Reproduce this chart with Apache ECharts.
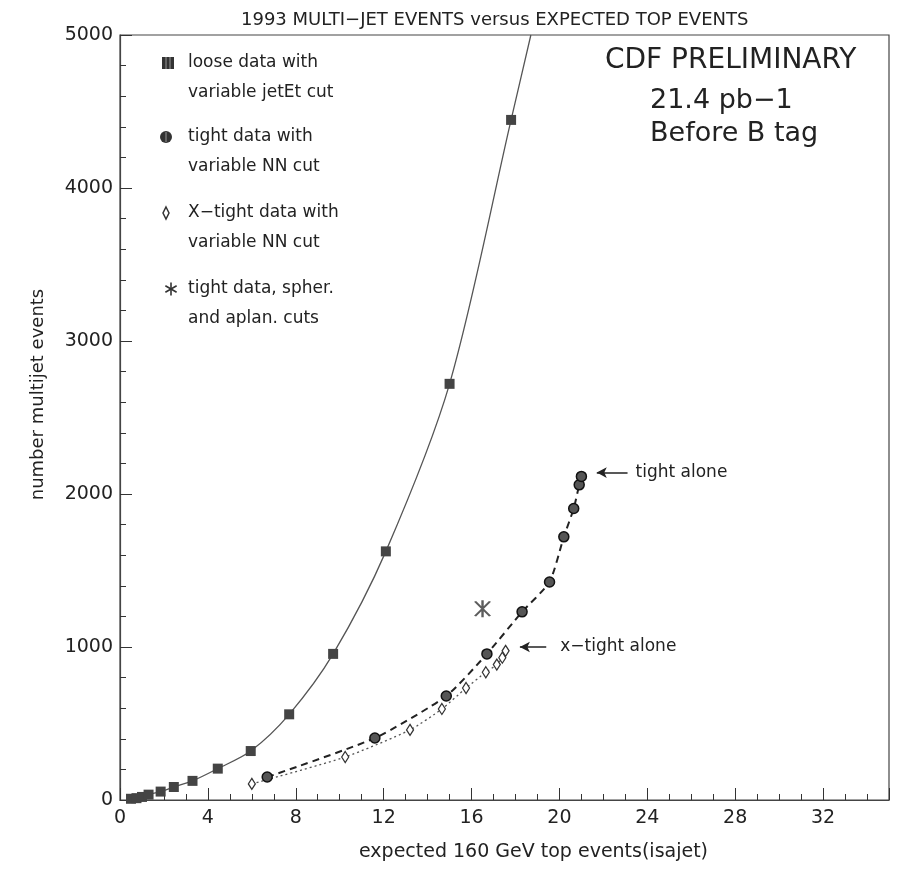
<!DOCTYPE html>
<html>
<head>
<meta charset="utf-8">
<script src="https://cdn.jsdelivr.net/npm/echarts@6/dist/echarts.min.js"></script>
<style>
  html, body { margin: 0; padding: 0; background: #fff; }
  #chart { width: 897px; height: 877px; }
</style>
</head>
<body>
<div id="chart"></div>
<script>
// loose data with variable jetEt cut (last point: where the curve leaves the frame)
const looseX = [0.5, 0.75, 1.0, 1.3, 1.85, 2.45, 3.3, 4.45, 5.95, 7.7, 9.7, 12.1, 15.0, 17.8, 18.7]
const looseY = [8, 12, 20, 35, 55, 85, 125, 205, 320, 560, 955, 1625, 2720, 4445, 5000]
// tight data with variable NN cut
const tightX = [6.7, 11.6, 14.85, 16.7, 18.3, 19.55, 20.2, 20.65, 20.9, 21.0]
const tightY = [150, 405, 680, 955, 1230, 1425, 1720, 1905, 2060, 2115]
// X-tight data with variable NN cut
const xtightX = [6.0, 10.25, 13.2, 14.65, 15.75, 16.65, 17.15, 17.4, 17.55]
const xtightY = [105, 281, 458, 595, 732, 835, 885, 930, 975]
// tight data, spher. and aplan. cuts
const spherX = [16.5]
const spherY = [1250]

const xTicks = [0, 4, 8, 12, 16, 20, 24, 28, 32]
const yTicks = [0, 1000, 2000, 3000, 4000, 5000]

const font = 'DejaVu Sans'
const ink = '#222'
const asteriskPath = 'path://M9.2,0H10.8V20H9.2Z M5.69,0.94L15.69,18.26L14.31,19.06L4.31,1.74Z M4.31,18.26L14.31,0.94L15.69,1.74L5.69,19.06Z'

const zip = (xs, ys) => xs.map((x, i) => [x, ys[i]])

const chart = echarts.init(document.getElementById('chart'))

const looseData = zip(looseX, looseY).map((p, i) =>
  i === looseX.length - 1 ? { value: p, symbol: 'none' } : p
)

const legendRows = [
  { y: 63, lines: ['loose data with', 'variable jetEt cut'], icon: 'rect' },
  { y: 137, lines: ['tight data with', 'variable NN cut'], icon: 'circle' },
  { y: 213, lines: ['X\u2212tight data with', 'variable NN cut'], icon: 'diamond' },
  { y: 289, lines: ['tight data, spher.', 'and aplan. cuts'], icon: 'star' }
]

const legendGraphics = []
legendRows.forEach(r => {
  r.lines.forEach((t, k) => {
    legendGraphics.push({
      type: 'text', x: 188, y: r.y + k * 30,
      style: { text: t, font: '17px ' + font, fill: ink, verticalAlign: 'middle' }
    })
  })
  if (r.icon === 'rect') {
    legendGraphics.push({ type: 'rect', shape: { x: 162, y: r.y - 6, width: 12, height: 12 }, style: { fill: '#333' } })
    legendGraphics.push({ type: 'line', shape: { x1: 166, y1: r.y - 6, x2: 166, y2: r.y + 6 }, style: { stroke: '#999', lineWidth: 1 } })
    legendGraphics.push({ type: 'line', shape: { x1: 170, y1: r.y - 6, x2: 170, y2: r.y + 6 }, style: { stroke: '#999', lineWidth: 1 } })
  } else if (r.icon === 'circle') {
    legendGraphics.push({ type: 'circle', shape: { cx: 166, cy: r.y, r: 6 }, style: { fill: '#333' } })
    legendGraphics.push({ type: 'line', shape: { x1: 166, y1: r.y - 5, x2: 166, y2: r.y + 5 }, style: { stroke: '#999', lineWidth: 1 } })
  } else if (r.icon === 'diamond') {
    legendGraphics.push({ type: 'polygon', shape: { points: [[166, r.y - 6], [169, r.y], [166, r.y + 6], [163, r.y]] }, style: { fill: '#fff', stroke: '#333', lineWidth: 1.5 } })
  } else {
    const cx = 171, cy = r.y, a = 6.5
    legendGraphics.push({ type: 'line', shape: { x1: cx, y1: cy - a, x2: cx, y2: cy + a }, style: { stroke: '#333', lineWidth: 1.6 } })
    legendGraphics.push({ type: 'line', shape: { x1: cx - a * 0.866, y1: cy - a / 2, x2: cx + a * 0.866, y2: cy + a / 2 }, style: { stroke: '#333', lineWidth: 1.6 } })
    legendGraphics.push({ type: 'line', shape: { x1: cx - a * 0.866, y1: cy + a / 2, x2: cx + a * 0.866, y2: cy - a / 2 }, style: { stroke: '#333', lineWidth: 1.6 } })
  }
})

const option = {
  backgroundColor: '#fff',
  animation: false,
  title: {
    text: '1993 MULTI\u2212JET EVENTS versus EXPECTED TOP EVENTS',
    left: 236, top: 6,
    textStyle: { fontFamily: font, fontSize: 18, fontWeight: 'normal', color: ink }
  },
  grid: { left: 120, right: 8, top: 35, bottom: 77, show: true, borderColor: '#444', borderWidth: 1.2 },
  xAxis: {
    type: 'value', min: 0, max: 35, interval: 4,
    name: 'expected 160 GeV top events(isajet)',
    nameLocation: 'middle', nameGap: 43,
    nameTextStyle: { fontFamily: font, fontSize: 19, color: ink, padding: [0, 0, 0, 58] },
    axisLine: { lineStyle: { color: '#444', width: 1.2 } },
    axisTick: { inside: true, length: 12, lineStyle: { color: '#333' } },
    minorTick: { show: true, splitNumber: 4, length: 6, lineStyle: { color: '#333' } },
    axisLabel: {
      fontFamily: font, fontSize: 19, color: ink, margin: 9, showMaxLabel: false,
      formatter: v => (xTicks.includes(v) ? String(v) : '')
    },
    splitLine: { show: false }
  },
  yAxis: {
    type: 'value', min: 0, max: 5000, interval: 1000,
    name: 'number multijet events',
    nameLocation: 'middle', nameGap: 73,
    nameTextStyle: { fontFamily: font, fontSize: 18, color: ink, padding: [0, 0, 0, 46] },
    axisLine: { lineStyle: { color: '#444', width: 1.2 } },
    axisTick: { inside: true, length: 12, lineStyle: { color: '#333' } },
    minorTick: { show: true, splitNumber: 5, length: 6, lineStyle: { color: '#333' } },
    axisLabel: {
      fontFamily: font, fontSize: 19, color: ink, margin: 7,
      formatter: v => (yTicks.includes(v) ? String(v) : '')
    },
    splitLine: { show: false }
  },
  series: [
    {
      name: 'loose', type: 'line', data: looseData,
      smooth: 0.3,
      symbol: 'rect', symbolSize: 10,
      itemStyle: { color: '#444' },
      lineStyle: { color: '#555', width: 1.3, type: 'solid' },
      z: 3
    },
    {
      name: 'tight', type: 'line', data: zip(tightX, tightY),
      smooth: 0.2,
      symbol: 'circle', symbolSize: 10,
      itemStyle: { color: '#555', borderColor: '#111', borderWidth: 1.5 },
      lineStyle: { color: '#222', width: 2, type: [7, 5] },
      markLine: {
        silent: true, symbol: ['none', 'arrow'], symbolSize: [8, 10],
        lineStyle: { color: '#222', width: 1.5, type: 'solid' },
        label: { show: true, position: 'start', distance: 8, formatter: 'tight alone', fontFamily: font, fontSize: 17, color: ink },
        data: [[{ coord: [23.1, 2140] }, { coord: [21.7, 2140] }]]
      },
      z: 4
    },
    {
      name: 'xtight', type: 'line', data: zip(xtightX, xtightY),
      smooth: 0.2,
      symbol: 'diamond', symbolSize: [7, 11],
      itemStyle: { color: '#fff', borderColor: '#333', borderWidth: 1.3 },
      lineStyle: { color: '#555', width: 1.3, type: [2, 3] },
      markLine: {
        silent: true, symbol: ['none', 'arrow'], symbolSize: [8, 10],
        lineStyle: { color: '#222', width: 1.5, type: 'solid' },
        label: { show: true, position: 'start', distance: 14, formatter: 'x\u2212tight alone', fontFamily: font, fontSize: 17, color: ink },
        data: [[{ coord: [19.4, 1000] }, { coord: [18.2, 1000] }]]
      },
      z: 4
    },
    {
      name: 'spher', type: 'scatter', data: zip(spherX, spherY),
      symbol: asteriskPath, symbolSize: 17,
      itemStyle: { color: '#333' },
      z: 4
    }
  ],
  graphic: [
    ...legendGraphics,
    { type: 'text', x: 605, y: 61, style: { text: 'CDF PRELIMINARY', font: '28px ' + font, fill: ink, verticalAlign: 'middle' } },
    { type: 'text', x: 650, y: 101, style: { text: '21.4 pb\u22121', font: '27px ' + font, fill: ink, verticalAlign: 'middle' } },
    { type: 'text', x: 650, y: 134, style: { text: 'Before B tag', font: '27px ' + font, fill: ink, verticalAlign: 'middle' } }
  ]
}

chart.setOption(option)
</script>
</body>
</html>
